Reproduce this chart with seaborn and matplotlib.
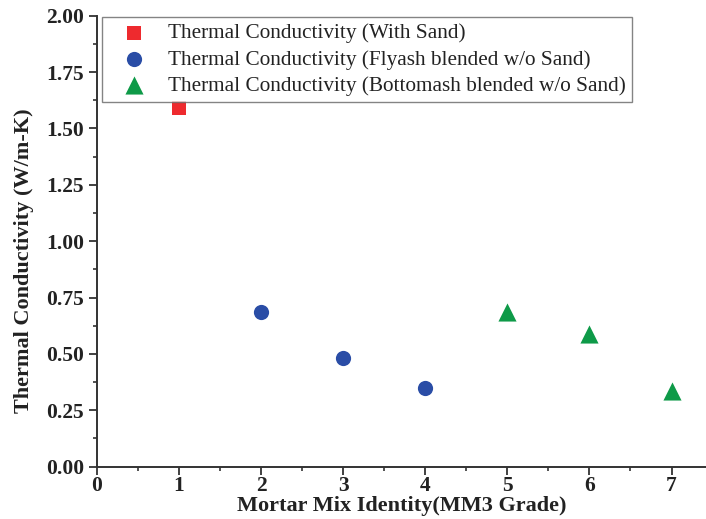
import matplotlib
matplotlib.use("Agg")
import matplotlib.pyplot as plt
import seaborn as sns
import pandas as pd
from matplotlib.ticker import MultipleLocator, FormatStrFormatter

# Thermal conductivity of MM3 grade mortar mixes
with_sand_ids = [1]
with_sand_k = [1.59]
flyash_ids = [2, 3, 4]
flyash_k = [0.687, 0.481, 0.348]
bottomash_ids = [5, 6, 7]
bottomash_k = [0.687, 0.589, 0.336]

series_names = [
    "Thermal Conductivity (With Sand)",
    "Thermal Conductivity (Flyash blended w/o Sand)",
    "Thermal Conductivity (Bottomash blended w/o Sand)",
]

df = pd.DataFrame({
    "mix": with_sand_ids + flyash_ids + bottomash_ids,
    "k": with_sand_k + flyash_k + bottomash_k,
    "series": [series_names[0]] * len(with_sand_ids)
    + [series_names[1]] * len(flyash_ids)
    + [series_names[2]] * len(bottomash_ids),
})

sns.set_style("ticks")
plt.rcParams["font.family"] = ["Liberation Serif", "DejaVu Serif"]

palette = {series_names[0]: "#EE2A2E",
           series_names[1]: "#2A4DA6",
           series_names[2]: "#0E9A48"}
markers = {series_names[0]: "s",
           series_names[1]: "o",
           series_names[2]: "^"}
sizes_pt = {series_names[0]: 100, series_names[1]: 120, series_names[2]: 170}

fig = plt.figure(figsize=(7.06, 5.19), dpi=100)
ax = fig.add_axes([0.137, 0.1008, 0.863, 0.8689])

for name in series_names:
    sub = df[df["series"] == name]
    sns.scatterplot(data=sub, x="mix", y="k", color=palette[name],
                    marker=markers[name], s=sizes_pt[name], linewidth=0,
                    label=name, ax=ax, zorder=3)

ax.set_xlim(0, 7.42)
ax.set_ylim(0, 2.0)
ax.xaxis.set_major_locator(MultipleLocator(1))
ax.xaxis.set_minor_locator(MultipleLocator(0.5))
ax.yaxis.set_major_locator(MultipleLocator(0.25))
ax.yaxis.set_minor_locator(MultipleLocator(0.125))
ax.yaxis.set_major_formatter(FormatStrFormatter("%.2f"))

for side in ["top", "right"]:
    ax.spines[side].set_visible(False)
for side in ["left", "bottom"]:
    ax.spines[side].set_linewidth(1.4)
    ax.spines[side].set_color("#333333")

ax.tick_params(which="major", direction="out", length=6, width=1.3,
               colors="#333333", labelsize=15.5, pad=1)
ax.tick_params(axis="y", which="major", pad=3)
ax.tick_params(which="minor", direction="out", length=3, width=1.2,
               colors="#333333")
for lbl in ax.get_xticklabels() + ax.get_yticklabels():
    lbl.set_fontweight("bold")
    lbl.set_color("#222222")

ax.set_xlabel("Mortar Mix Identity(MM3 Grade)", fontsize=16,
              fontweight="bold", color="#222222", labelpad=0)
ax.set_ylabel("Thermal Conductivity (W/m-K)", fontsize=16,
              fontweight="bold", color="#222222")
ax.yaxis.set_label_coords(-0.103, 0.456)

leg = ax.legend(loc="upper left", bbox_to_anchor=(0.009, 0.997),
                frameon=True, fancybox=False, fontsize=15.3,
                handletextpad=0.4, borderpad=0.3, labelspacing=0.3,
                markerscale=1.0, borderaxespad=0, handlelength=2.4)
leg.get_frame().set_edgecolor("#666666")
leg.get_frame().set_linewidth(1.0)
for t in leg.get_texts():
    t.set_color("#222222")

fig.savefig("out.png", dpi=100)
